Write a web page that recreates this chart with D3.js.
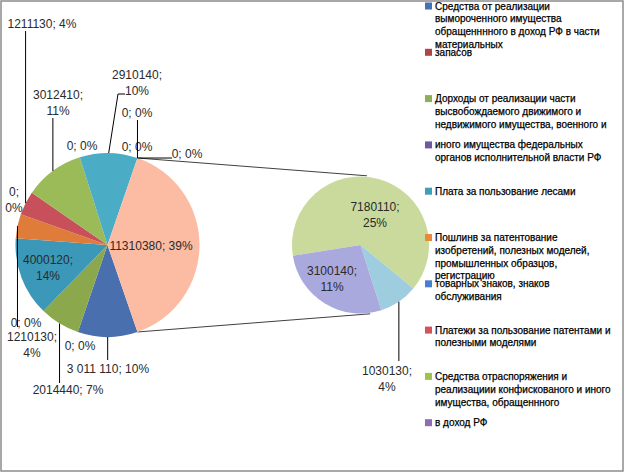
<!DOCTYPE html>
<html><head><meta charset="utf-8">
<script src="https://cdn.jsdelivr.net/npm/d3@7"></script>
<style>
body{margin:0;background:#fff}
svg{display:block}
text{font-family:"Liberation Sans",Arial,sans-serif}
</style>
</head><body>
<svg id="c" width="626" height="473"></svg>
<script>
// ---------- DATA ----------
// primary pie points, clockwise after the "other" slice
const mainValues = [3011110, 0, 2014440, 0, 4000120, 1210130, 1211130, 0, 3012410, 0, 2910140, 0, 0, 0];
const mainGrouped = [true, false, false, false, false, false, false, false, false, false, false, false, false, false, false];
// secondary pie points (together form the "other" slice)
const secondaryValues = [7180110, 1030130, 3100140];
// legend categories
const legendLabels = [
  "Средства от реализации\nвымороченного имущества\nобращенннного в доход РФ в части\nматериальных",
  "запасов",
  "Дорходы от реализации части\nвысвобождаемого движимого и\nнедвижимого имущества, военного и",
  "иного имущества федеральных\nорганов исполнительной власти РФ",
  "Плата за пользование лесами",
  "Пошлинв за патентование\nизобретений, полезных моделей,\nпромышленных образцов,\nрегистрацию",
  "товарных знаков, знаков\nобслуживания",
  "Платежи за пользование патентами и\nполезными моделями",
  "Средства отраспоряжения и\nреализациии конфискованого и иного\nимущества, обращеннного",
  "в доход РФ"
];

// ---------- STYLE / LAYOUT ----------
const mainColors = ["#4a6fae","#c0504d","#8ba84c","#8064a2","#3b98b8","#e07c3a","#c8505a","#8064a2","#9bbb59","#8064a2","#4bacc6","#f79646","#4f81bd","#c0504d","#fbbca3"];
const secondaryColors = ["#c9da9c","#9fcde0","#aaa9de"];
const legendColors = ["#4473b5","#b04545","#8faf55","#6f5a9f","#3f9fb8","#e88a3a","#4a7ed0","#d5525a","#9cc44a","#8e6bb5"];

const C1 = [107.5, 245], R1 = 92;
const C2 = [360.5, 245], R2 = 68.5;
const connectorAngles = [5.4, 172]; // degrees on secondary pie

// label layout for primary points (index matches mainValues, last = other)
const mainLabelLayout = [
  {x:108, y:369, leader:[[null,360]]},
  {x:80,  y:346},
  {x:68,  y:390, leader:[[null,383]]},
  {x:26,  y:323},
  {x:48,  y:260, wrap:true},
  {x:32,  y:337, wrap:true, leader:[[null,327]]},
  {x:42,  y:24,  leader:[[null,31]]},
  {x:14,  y:192, wrap:true},
  {x:58,  y:95,  wrap:true, leader:[[null,118]]},
  {x:82,  y:146},
  {x:137, y:75,  wrap:true, leader:[[118,94],[125,94]]},
  {x:137, y:147},
  {x:137, y:113, leader:[[null,120]]},
  {x:187, y:154, leader:[[172,null]]},
  {x:151, y:246}
];
const secLabelLayout = [
  {x:375, y:207, wrap:true},
  {x:387, y:371, wrap:true, leader:[[null,361]]},
  {x:332, y:271, wrap:true}
];

// ---------- DRAW ----------
const svg = d3.select("#c");
svg.append("rect").attr("x",1).attr("y",1).attr("width",622).attr("height",470)
  .attr("fill","#fff").attr("stroke","#8c8c8c").attr("stroke-width",1.5);

const otherValue = d3.sum(secondaryValues);
const allMain = mainValues.concat([otherValue]);
const total = d3.sum(allMain);
const otherFrac = otherValue / total;
const start1 = Math.PI/2 + otherFrac*Math.PI;

const pie1 = d3.pie().sort(null).value(d=>d).startAngle(start1).endAngle(start1+2*Math.PI);
const arcs1 = pie1(allMain);
const arc1 = d3.arc().innerRadius(0).outerRadius(R1);

const start2 = -99*Math.PI/180;
const pie2 = d3.pie().sort(null).value(d=>d).startAngle(start2).endAngle(start2+2*Math.PI);
const arcs2 = pie2(secondaryValues);
const arc2 = d3.arc().innerRadius(0).outerRadius(R2);

const polar = (c, r, a) => [c[0] + r*Math.sin(a), c[1] - r*Math.cos(a)];

// connector lines
const otherArc = arcs1[arcs1.length-1];
const lineG = svg.append("g").attr("stroke","#404040").attr("stroke-width",1).attr("fill","none");
const p1a = polar(C1, R1, otherArc.startAngle), p1b = polar(C1, R1, otherArc.endAngle);
const p2a = polar(C2, R2+1, connectorAngles[0]*Math.PI/180), p2b = polar(C2, R2+1, connectorAngles[1]*Math.PI/180);
lineG.append("line").attr("x1",p1a[0]).attr("y1",p1a[1]).attr("x2",p2a[0]).attr("y2",p2a[1]);
lineG.append("line").attr("x1",p1b[0]).attr("y1",p1b[1]).attr("x2",p2b[0]).attr("y2",p2b[1]);

svg.append("g").attr("transform",`translate(${C1})`)
  .selectAll("path").data(arcs1).join("path")
  .attr("d", arc1).attr("fill",(d,i)=>mainColors[i]);
svg.append("g").attr("transform",`translate(${C2})`)
  .selectAll("path").data(arcs2).join("path")
  .attr("d", arc2).attr("fill",(d,i)=>secondaryColors[i]);

const spaceFmt = d3.formatLocale({decimal:",", thousands:" ", grouping:[3], currency:["",""]}).format(",");
function labelText(v, grouped) {
  const pct = Math.round(v/total*100);
  return [(grouped ? spaceFmt(v) : String(v)) + ";", pct + "%"];
}

function drawLabel(c, r, a, lay, parts) {
  if (lay.leader) {
    const ap = polar(c, r, a);
    let pts = [ap];
    lay.leader.forEach(p => {
      const prev = pts[pts.length-1];
      pts.push([p[0]===null?prev[0]:p[0], p[1]===null?prev[1]:p[1]]);
    });
    svg.append("path").attr("d", d3.line()(pts)).attr("fill","none")
      .attr("stroke","#000").attr("stroke-width",1);
  }
  const t = svg.append("text").attr("font-size",12).attr("fill","#2a2a2a").attr("text-anchor","middle");
  if (lay.wrap) {
    t.append("tspan").attr("x",lay.x).attr("y",lay.y).attr("dy","0.35em").text(parts[0]);
    t.append("tspan").attr("x",lay.x).attr("y",lay.y+15.5).attr("dy","0.35em").text(parts[1]);
  } else {
    t.append("tspan").attr("x",lay.x).attr("y",lay.y).attr("dy","0.35em").text(parts[0]+" "+parts[1]);
  }
}

arcs1.forEach((d,i) => {
  const mid = (d.startAngle+d.endAngle)/2;
  drawLabel(C1, R1, mid, mainLabelLayout[i], labelText(d.data, mainGrouped[i]));
});
arcs2.forEach((d,i) => {
  const mid = (d.startAngle+d.endAngle)/2;
  drawLabel(C2, R2, mid, secLabelLayout[i], labelText(d.data, false));
});

// legend
const lg = svg.append("g");
legendLabels.forEach((lab, i) => {
  const y = 6 + i*46.3;
  lg.append("rect").attr("x",425).attr("y",y-3.5).attr("width",7).attr("height",7).attr("fill",legendColors[i]);
  const t = lg.append("text").attr("font-size",10).attr("fill","#000")
    .attr("stroke","#000").attr("stroke-width",0.25);
  lab.split("\n").forEach((ln, j) => {
    t.append("tspan").attr("x",435).attr("y",y + j*12.8).attr("dy","0.35em").text(ln);
  });
});
</script>
</body></html>
